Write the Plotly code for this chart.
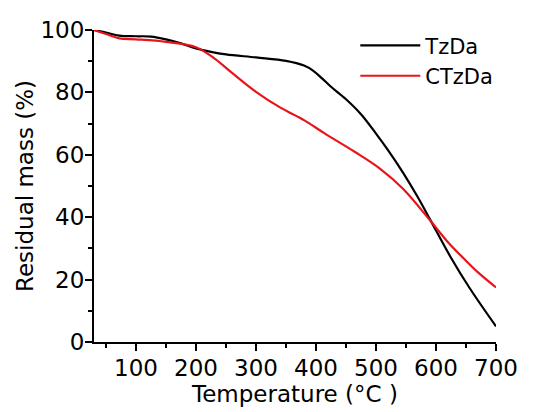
import plotly.graph_objects as go

# TzDa curve
temp_tzda = [30, 50, 72, 100, 125, 150, 175, 200, 225, 250, 300, 350, 380, 395, 410, 425, 450, 475, 500, 520, 545, 570, 590, 625, 656, 700]
tzda = [100, 99.2, 98.2, 98.0, 97.9, 97.0, 95.7, 94.1, 93.0, 92.2, 91.2, 90.1, 88.6, 87.0, 84.5, 81.8, 77.8, 73.0, 66.8, 61.5, 54.3, 46.3, 39.3, 27.0, 17.3, 5.0]
# CTzDa curve
temp_ctzda = [30, 50, 72, 100, 150, 200, 230, 258, 300, 340, 380, 415, 465, 507, 545, 590, 620, 645, 670, 700]
ctzda = [100, 98.7, 97.3, 97.0, 96.2, 94.5, 91.0, 86.6, 80.2, 75.2, 71.1, 66.8, 60.9, 55.5, 49.1, 39.0, 32.0, 27.0, 22.3, 17.5]

x_ticks = [100, 200, 300, 400, 500, 600, 700]
x_minor = [50, 150, 250, 350, 450, 550, 650]
y_ticks = [0, 20, 40, 60, 80, 100]
y_minor = [10, 30, 50, 70, 90]

fig = go.Figure()
fig.add_trace(go.Scatter(x=temp_tzda, y=tzda, mode="lines", name="TzDa",
                         line=dict(color="black", width=2.2, shape="spline", smoothing=1)))
fig.add_trace(go.Scatter(x=temp_ctzda, y=ctzda, mode="lines", name="CTzDa",
                         line=dict(color="#e8141c", width=2.2, shape="spline", smoothing=1)))

font = "DejaVu Sans, Liberation Sans, Arial, sans-serif"
fig.update_layout(
    width=541, height=412,
    margin=dict(l=94, r=45, t=30, b=70),
    paper_bgcolor="white", plot_bgcolor="white",
    font=dict(family=font, color="black", size=22),
    showlegend=True,
    legend=dict(x=0.65, y=1.015, xanchor="left", yanchor="top",
                bgcolor="rgba(0,0,0,0)", font=dict(size=21),
                tracegroupgap=0, itemwidth=60),
    xaxis=dict(range=[30, 700], tickvals=x_ticks,
               showgrid=False, zeroline=False, showline=True, linecolor="black", linewidth=2,
               ticks="outside", ticklen=7, tickwidth=2, tickcolor="black",
               ticklabelstandoff=-3,
               minor=dict(tickvals=x_minor, ticks="outside",
                          ticklen=4, tickwidth=2, tickcolor="black"),
               title=dict(text="Temperature (°C )", standoff=0, font=dict(size=23)),
               tickfont=dict(size=23)),
    yaxis=dict(range=[0, 100], tickvals=y_ticks,
               showgrid=False, zeroline=False, showline=True, linecolor="black", linewidth=2,
               ticks="outside", ticklen=7, tickwidth=2, tickcolor="black",
               ticklabelstandoff=-4,
               minor=dict(tickvals=y_minor, ticks="outside",
                          ticklen=4, tickwidth=2, tickcolor="black"),
               title=dict(text="Residual mass (%)", standoff=0, font=dict(size=23)),
               tickfont=dict(size=23)),
)
fig.write_html("out.html")
